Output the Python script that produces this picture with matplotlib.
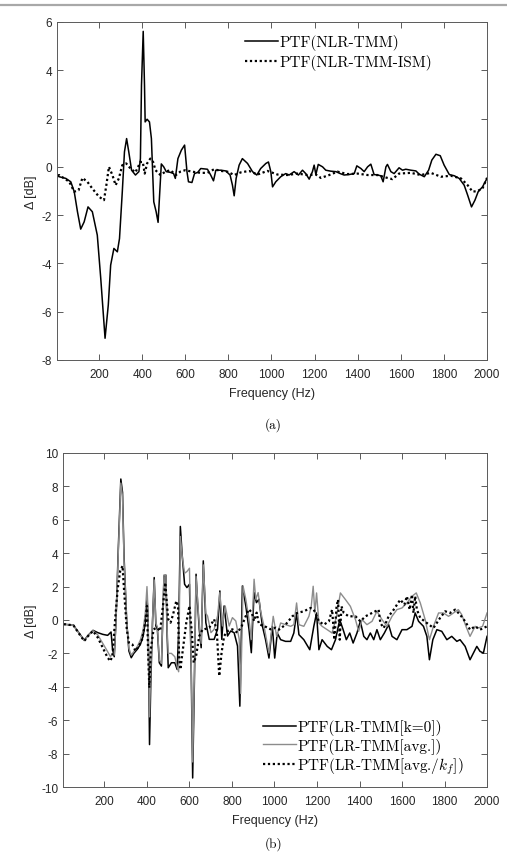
import matplotlib
matplotlib.use("Agg")
import matplotlib.pyplot as plt
from matplotlib.lines import Line2D

plt.rcParams['font.family'] = ['Liberation Sans', 'DejaVu Sans']
plt.rcParams['axes.unicode_minus'] = False
plt.rcParams['mathtext.fontset'] = 'cm'

#%% data

# (a) NLR-TMM
f_nlr = [8, 15, 46, 69, 85, 100, 115, 131, 149, 169, 192, 208, 228, 243, 254, 269, 285, 295, 308, 318,
         328, 338, 351, 369, 385, 392, 397, 405, 411, 414, 423, 434, 443, 454, 465, 474, 482, 489, 500, 512,
         531, 546, 554, 566, 582, 597, 608, 615, 631, 643, 658, 672, 703, 718, 731, 742, 765, 788, 808, 819,
         827, 836, 850, 865, 889, 912, 932, 950, 974, 986, 997, 1005, 1020, 1043, 1066, 1082, 1105, 1125, 1144, 1159,
         1175, 1190, 1198, 1206, 1217, 1237, 1252, 1275, 1299, 1319, 1337, 1360, 1384, 1396, 1415, 1430, 1446, 1461, 1476, 1492,
         1507, 1518, 1531, 1538, 1554, 1569, 1592, 1608, 1623, 1647, 1670, 1685, 1709, 1729, 1744, 1763, 1783, 1801, 1825, 1848,
         1871, 1894, 1910, 1928, 1944, 1959, 1979, 2000]
d_nlr = [-0.38, -0.41, -0.48, -0.62, -1.03, -1.86, -2.58, -2.28, -1.66, -1.86, -2.83, -4.62, -7.1, -5.72, -4.07, -3.38, -3.52, -2.97, -1.03, 0.62,
         1.17, 0.62, -0.14, -0.34, -0.2, 0.34, 3.38, 5.61, 3.38, 1.86, 1.97, 1.86, 1.17, -1.45, -1.86, -2.3, -1.03, 0.12, 0.0, -0.2,
         -0.23, -0.28, -0.48, 0.34, 0.69, 0.9, -0.2, -0.62, -0.65, -0.28, -0.23, -0.07, -0.1, -0.34, -0.58, -0.14, -0.14, -0.17, -0.34, -0.76,
         -1.2, -0.48, 0.07, 0.34, 0.14, -0.2, -0.34, -0.07, 0.14, 0.2, -0.2, -0.83, -0.62, -0.41, -0.28, -0.34, -0.2, -0.34, -0.14, -0.28,
         -0.51, -0.2, 0.07, -0.32, 0.1, 0.0, -0.14, -0.18, -0.2, -0.28, -0.34, -0.32, -0.28, 0.04, -0.07, -0.2, 0.0, 0.11, -0.32, -0.34,
         -0.37, -0.62, 0.0, 0.1, -0.2, -0.28, -0.04, -0.14, -0.1, -0.14, -0.17, -0.3, -0.41, -0.14, 0.28, 0.52, 0.46, 0.07, -0.32, -0.37,
         -0.48, -0.76, -1.17, -1.66, -1.38, -1.03, -0.83, -0.48]

# (a) NLR-TMM-ISM
f_ism = [8, 15, 62, 85, 105, 123, 146, 169, 200, 223, 234, 246, 262, 277, 292, 308, 326, 346, 369, 392,
         403, 412, 423, 438, 451, 462, 485, 508, 531, 557, 577, 600, 631, 672, 703, 734, 765, 796, 827, 858,
         896, 935, 981, 1028, 1074, 1121, 1167, 1206, 1229, 1268, 1306, 1353, 1399, 1446, 1492, 1538, 1561, 1592, 1647, 1693,
         1739, 1786, 1832, 1879, 1910, 1933, 1956, 1979, 2000]
d_ism = [-0.36, -0.34, -0.62, -1.03, -0.97, -0.46, -0.62, -0.9, -1.24, -1.38, -0.76, 0.0, -0.34, -0.76, -0.48, 0.07, 0.14, -0.07, -0.23, 0.2,
         0.2, -0.28, 0.14, 0.34, 0.2, -0.14, -0.34, -0.2, -0.14, -0.34, -0.2, -0.14, -0.2, -0.25, -0.25, -0.1, -0.17, -0.2, -0.34, -0.23,
         -0.17, -0.32, -0.17, -0.32, -0.34, -0.28, -0.34, -0.32, -0.46, -0.34, -0.2, -0.3, -0.28, -0.34, -0.34, -0.46, -0.51, -0.28, -0.25, -0.34,
         -0.25, -0.41, -0.37, -0.48, -0.76, -1.03, -1.0, -0.9, -0.46]

# (b) LR-TMM[k=0]
f_k0 = [8, 15, 54, 77, 105, 123, 146, 169, 192, 215, 231, 238, 246, 254, 265, 277, 285, 292, 305, 315,
        326, 338, 354, 369, 382, 392, 400, 405, 409, 412, 418, 426, 434, 442, 449, 458, 468, 474, 480, 489,
        495, 500, 515, 531, 542, 549, 557, 566, 577, 588, 600, 608, 615, 623, 631, 638, 646, 655, 665, 677,
        693, 716, 732, 743, 752, 763, 779, 794, 810, 826, 837, 849, 865, 880, 891, 904, 915, 927, 943, 958,
        974, 990, 1001, 1013, 1029, 1052, 1076, 1091, 1104, 1115, 1138, 1166, 1185, 1198, 1209, 1224, 1248, 1268, 1287, 1307,
        1323, 1338, 1354, 1370, 1388, 1404, 1420, 1435, 1451, 1467, 1482, 1498, 1517, 1537, 1553, 1576, 1600, 1623, 1647, 1662,
        1678, 1701, 1717, 1729, 1745, 1764, 1787, 1811, 1834, 1858, 1873, 1897, 1920, 1936, 1952, 1967, 1983, 2000]
d_k0 = [-0.26, -0.26, -0.32, -0.72, -1.22, -0.92, -0.62, -0.76, -0.86, -0.92, -0.72, -1.76, -2.2, -0.16, 4.24, 8.44, 7.64, 3.84, -0.16, -1.86,
        -2.26, -2.0, -1.76, -1.46, -0.96, -0.16, 1.34, 0.24, -3.76, -7.46, -3.76, -0.16, 2.54, -0.36, -0.56, -2.56, -2.76, -0.16, 2.64, 2.68,
        -0.96, -2.86, -2.56, -2.56, -2.96, -0.76, 5.6, 3.84, 2.14, 1.94, 2.14, -2.76, -9.46, -3.76, 2.74, 1.04, -0.56, -1.66, 3.54, -0.16,
        -1.16, -1.16, -0.56, 1.74, -1.16, 0.84, -0.96, -0.66, -0.76, -1.56, -5.16, 2.04, 0.84, -0.56, -1.96, 1.64, 1.04, 1.24, -0.36, -1.18,
        -2.28, -0.38, -2.28, -0.78, -1.18, -1.28, -1.28, -0.78, 0.42, -0.88, -1.18, -1.78, -0.38, 0.42, -1.78, -1.18, -1.58, -1.78, -1.18, 0.02,
        -0.58, -1.18, -0.78, -1.38, -0.78, -0.08, -0.98, -1.18, -0.78, -1.18, -0.58, -1.18, -0.78, -0.28, -0.98, -1.18, -0.58, -0.58, -0.38, 0.42,
        -0.08, -0.38, -0.98, -2.38, -1.18, -0.58, -0.68, -1.18, -0.98, -1.28, -1.18, -1.58, -2.38, -1.98, -1.58, -1.88, -1.98, -0.98]

# (b) LR-TMM[avg.]
f_avg = [8, 15, 54, 77, 105, 123, 146, 169, 192, 215, 228, 238, 246, 254, 265, 277, 285, 292, 305, 315,
         326, 338, 354, 369, 382, 392, 400, 405, 409, 412, 418, 426, 434, 442, 449, 458, 468, 474, 480, 489,
         495, 500, 515, 531, 542, 549, 557, 566, 577, 588, 600, 608, 615, 623, 631, 638, 646, 655, 665, 677,
         685, 701, 716, 732, 743, 755, 768, 787, 802, 818, 834, 841, 852, 865, 880, 891, 904, 912, 923, 935,
         951, 974, 994, 1010, 1029, 1052, 1076, 1091, 1104, 1115, 1138, 1162, 1173, 1182, 1190, 1198, 1209, 1224, 1248, 1271,
         1292, 1310, 1334, 1357, 1381, 1396, 1412, 1435, 1459, 1482, 1506, 1529, 1553, 1576, 1600, 1623, 1647, 1667, 1686, 1709,
         1729, 1748, 1772, 1795, 1819, 1842, 1865, 1881, 1901, 1920, 1944, 1959, 1979, 2000]
d_avg = [-0.26, -0.26, -0.32, -0.74, -1.24, -0.94, -0.64, -0.9, -1.4, -1.9, -2.2, -2.0, -2.1, -0.2, 4.0, 8.2, 7.4, 3.6, -0.2, -1.7,
         -2.1, -1.9, -1.6, -1.2, -0.6, 0.4, 2.0, 0.6, -3.0, -5.8, -3.0, 0.0, 2.4, -0.2, -0.4, -2.4, -2.6, -0.1, 2.7, 2.7,
         -0.6, -2.0, -2.0, -2.2, -2.8, -3.1, 5.0, 3.8, 2.8, 2.9, 3.1, -2.4, -8.5, -3.4, 2.6, 1.2, -0.3, -1.4, 3.3, 0.4,
         0.24, -0.76, -0.56, 0.24, 1.64, -0.36, 0.84, -0.36, 0.14, -0.06, -1.16, -4.4, 2.04, 1.24, 0.04, -1.16, 2.44, 1.24, 1.64, 0.5,
         -0.38, -1.98, 0.22, -0.98, -0.18, -0.28, -0.38, -0.28, 1.02, -0.28, -0.38, 0.22, 0.82, 2.02, 0.42, 1.62, -0.18, -0.38, -0.58, -0.78,
         0.22, 1.62, 1.22, 0.82, 0.02, -0.68, 0.02, -0.28, -0.08, 0.52, 0.02, -0.38, 0.22, 0.62, 0.72, 1.02, 1.42, 1.62, 1.02, 0.02,
         -1.18, -0.38, 0.42, 0.42, 0.22, 0.42, 0.62, 0.32, -0.38, -0.98, -0.38, -0.48, -0.38, 0.42]

# (b) LR-TMM[avg./k_f]
f_kf = [8, 15, 54, 77, 105, 123, 146, 169, 192, 215, 228, 238, 249, 262, 274, 285, 292, 305, 315, 331,
        346, 362, 377, 392, 400, 405, 411, 418, 431, 446, 462, 477, 486, 492, 500, 511, 523, 538, 546, 551,
        557, 569, 585, 600, 611, 620, 631, 646, 662, 669, 693, 716, 729, 740, 751, 763, 779, 802, 826, 846,
        865, 880, 893, 904, 916, 927, 951, 982, 1006, 1021, 1052, 1084, 1107, 1138, 1170, 1185, 1209, 1232, 1256, 1271,
        1282, 1292, 1299, 1307, 1315, 1326, 1349, 1381, 1404, 1428, 1459, 1490, 1498, 1514, 1537, 1561, 1592, 1611, 1623, 1636,
        1647, 1654, 1662, 1670, 1686, 1717, 1748, 1779, 1803, 1826, 1850, 1873, 1897, 1920, 1944, 1967, 2000]
d_kf = [-0.26, -0.26, -0.32, -0.76, -1.26, -0.96, -0.66, -1.06, -1.66, -2.26, -2.46, -2.12, -0.16, 1.84, 2.94, 3.24, 1.84, -0.56, -1.36, -1.46,
        -1.86, -1.56, -1.16, -0.16, 0.84, -1.76, -4.06, -1.76, -0.56, -0.46, -0.66, 1.04, 2.24, 1.24, 0.04, -0.16, 0.34, 1.14, 0.84, -2.16,
        -2.96, -1.76, -0.16, 0.84, -0.76, -2.56, -2.16, -0.96, -0.56, -0.56, -0.46, 0.04, -0.76, -3.36, -1.96, -0.96, -0.66, -0.56, -0.76, -0.36,
        0.24, 0.64, 0.44, -0.06, 0.44, -0.26, -0.36, -0.56, -0.46, -0.58, -0.28, 0.22, 0.42, 0.52, 0.72, 0.62, -0.08, -0.28, -0.08, 0.62,
        -1.18, 0.82, 1.22, -1.18, 0.82, 0.42, 0.22, 0.22, -0.08, 0.22, 0.42, 0.62, -0.18, -0.48, 0.22, 0.62, 1.22, 0.92, 1.42, 0.62,
        1.52, 0.42, 1.42, 0.62, 0.12, -0.18, -0.48, 0.12, 0.52, 0.42, 0.62, 0.32, -0.08, -0.58, -0.38, -0.58, -0.38]

xticks = list(range(200, 2001, 200))
ylabel = 'Δ [dB]'
txt = '#262626'


#%% figure

fig = plt.figure(figsize=(5.07, 8.53), dpi=100)

# page header rule
fig.add_artist(Line2D([0, 1], [0.993, 0.993], color='#a8a8a8', lw=1.6))


def estilo(ax, ylim, yticks):
    ax.set_xlim(5, 2000)
    ax.set_ylim(*ylim)
    ax.set_xticks(xticks)
    ax.set_yticks(yticks)
    ax.tick_params(direction='in', top=True, right=True, length=4, width=0.6,
                   labelsize=8.5, colors='#404040', labelcolor=txt)
    ax.tick_params(axis='x', pad=6)
    for s in ax.spines.values():
        s.set_color('#5a5a5a')
        s.set_linewidth(0.7)
    ax.set_xlabel('Frequency (Hz)', fontsize=9, color=txt, labelpad=5)
    ax.set_ylabel(ylabel, fontsize=9, color=txt, labelpad=3)


# (a)
ax1 = fig.add_axes([0.1124, 0.5768, 0.8482, 0.3963])
ax1.plot(f_nlr, d_nlr, color='black', lw=1.1, label='PTF(NLR-TMM)')
ax1.plot(f_ism, d_ism, color='black', lw=1.6, ls=(0, (1, 1.2)), label='PTF(NLR-TMM-ISM)')
estilo(ax1, (-8, 6), range(-8, 7, 2))
ax1.legend(loc='upper right', frameon=False, prop={'family': 'cmr10', 'size': 11},
           handlelength=2.1, handletextpad=0.1, labelspacing=0.25,
           borderaxespad=0.4, bbox_to_anchor=(0.9, 1.0))
fig.text(0.538, 1 - 425 / 853, '(a)', ha='center', va='center', family='cmr10', fontsize=9.5)

# (b)
ax2 = fig.add_axes([0.1243, 0.0762, 0.8363, 0.3916])
ax2.plot(f_k0, d_k0, color='black', lw=1.1, label='PTF(LR-TMM[k=0])')
ax2.plot(f_avg, d_avg, color='#8c8c8c', lw=1.0, label='PTF(LR-TMM[avg.])')
ax2.plot(f_kf, d_kf, color='black', lw=1.6, ls=(0, (1, 1.2)), label='PTF(LR-TMM[avg./$k_f$])')
estilo(ax2, (-10, 10), range(-10, 11, 2))
ax2.legend(loc='lower right', frameon=False, prop={'family': 'cmr10', 'size': 11},
           handlelength=2.1, handletextpad=0.1, labelspacing=0.15,
           borderaxespad=0.3, bbox_to_anchor=(0.97, 0.0))
fig.text(0.54, 1 - 844 / 853, '(b)', ha='center', va='center', family='cmr10', fontsize=9.5)

fig.savefig('out.png', dpi=100)
